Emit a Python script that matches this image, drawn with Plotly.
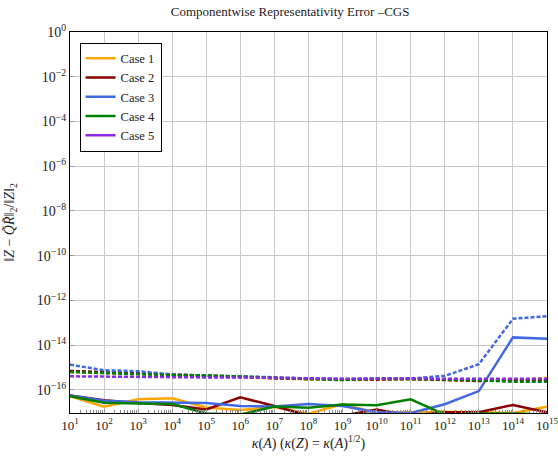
import plotly.graph_objects as go

kappa_exp = list(range(1, 16))
x_vals = [10.0 ** e for e in kappa_exp]

case_names = ["Case 1", "Case 2", "Case 3", "Case 4", "Case 5"]
case_colors = ["#FFA500", "#8B0000", "#4169E1", "#008000", "#8A2BE2"]

# log10 of errors, solid lines
solid_log = {
    "Case 1": [-16.28, -16.75, -16.42, -16.37, -16.78, -16.9, -16.76, -17.06, -16.63, -17.03, -17.0, -16.97, -17.0, -17.03, -16.75],
    "Case 2": [-16.25, -16.46, -16.58, -16.67, -16.87, -16.33, -16.72, -17.15, -17.15, -16.87, -17.15, -17.0, -17.0, -16.67, -17.0],
    "Case 3": [-16.25, -16.48, -16.55, -16.55, -16.58, -16.72, -16.74, -16.63, -16.72, -17.0, -17.03, -16.64, -16.05, -13.65, -13.71],
    "Case 4": [-16.28, -16.57, -16.6, -16.63, -17.05, -17.1, -16.74, -16.8, -16.65, -16.68, -16.42, -17.1, -17.05, -17.05, -17.1],
    "Case 5": [-17.3, -17.3, -17.35, -17.3, -17.35, -17.3, -17.3, -17.35, -17.3, -17.3, -17.35, -17.3, -17.3, -17.35, -17.3],
}
# log10 of errors, dotted lines
dotted_log = {
    "Case 1": [-15.2, -15.25, -15.3, -15.33, -15.37, -15.42, -15.48, -15.53, -15.55, -15.53, -15.52, -15.55, -15.57, -15.55, -15.46],
    "Case 2": [-15.15, -15.21, -15.27, -15.31, -15.36, -15.4, -15.48, -15.51, -15.54, -15.54, -15.51, -15.57, -15.6, -15.54, -15.54],
    "Case 3": [-14.87, -15.12, -15.16, -15.31, -15.36, -15.39, -15.43, -15.49, -15.51, -15.49, -15.49, -15.37, -14.85, -12.82, -12.7],
    "Case 4": [-15.2, -15.24, -15.31, -15.34, -15.35, -15.4, -15.47, -15.53, -15.56, -15.5, -15.5, -15.53, -15.57, -15.63, -15.63],
    "Case 5": [-15.39, -15.41, -15.43, -15.43, -15.44, -15.44, -15.47, -15.5, -15.5, -15.5, -15.48, -15.5, -15.5, -15.5, -15.5],
}

x_ticktext = ["10<sup>%d</sup>" % e for e in kappa_exp]
y_exps = [0, -2, -4, -6, -8, -10, -12, -14, -16]
y_ticktext = ["10<sup>%s</sup>" % (str(e).replace("-", "\u2212")) for e in y_exps]

fig = go.Figure()
for name, col in zip(case_names, case_colors):
    fig.add_trace(go.Scatter(
        x=x_vals, y=[10.0 ** v for v in solid_log[name]], mode="lines",
        name=name, line=dict(color=col, width=2.5), showlegend=True))
for name, col in zip(case_names, case_colors):
    fig.add_trace(go.Scatter(
        x=x_vals, y=[10.0 ** v for v in dotted_log[name]], mode="lines",
        name=name, line=dict(color=col, width=2.5, dash="4px,2px"), showlegend=False))

font_family = "'Liberation Serif', 'DejaVu Serif', serif"
fig.update_layout(
    width=558, height=460,
    margin=dict(l=70, r=11, t=32, b=47),
    paper_bgcolor="white", plot_bgcolor="white",
    font=dict(family=font_family, size=14, color="#222"),
    title=dict(text="Componentwise Representativity Error \u2013CGS", x=0.52, xanchor="center",
               y=0.985, yanchor="top", font=dict(size=13)),
    legend=dict(x=0.02, y=0.972, xanchor="left", yanchor="top", bgcolor="white",
                bordercolor="black", borderwidth=1, font=dict(size=12.5),
                tracegroupgap=0, itemwidth=30),
    showlegend=True,
)
fig.update_xaxes(
    type="log", range=[0.9999, 15.0001], automargin=False,
    tickvals=x_vals, ticktext=x_ticktext, ticklabeloverflow="allow",
    showgrid=True, gridcolor="#c8c8c8", gridwidth=1,
    showline=True, linecolor="black", linewidth=1, mirror=True,
    ticks="inside", ticklen=4, tickcolor="#999",
    minor=dict(dtick="D1", ticks="inside", ticklen=3, tickcolor="#888", showgrid=False),
    title=dict(text="<i>\u03ba</i>(<i>A</i>) (<i>\u03ba</i>(<i>Z</i>) = <i>\u03ba</i>(<i>A</i>)<sup>1/2</sup>)",
               font=dict(size=14), standoff=6),
    tickfont=dict(size=13), zeroline=False,
)
fig.update_yaxes(
    type="log", range=[-17.03, 0], automargin=False,
    tickvals=[10.0 ** e for e in y_exps], ticktext=y_ticktext,
    showgrid=True, gridcolor="#c8c8c8", gridwidth=1,
    showline=True, linecolor="black", linewidth=1, mirror=True,
    ticks="inside", ticklen=4, tickcolor="#999",
    title=dict(text="\u2016<i>Z</i> \u2212 <i>Q\u0303R\u0303</i>\u2016<sub>2</sub>/\u2016<i>Z</i>\u2016<sub>2</sub>",
               font=dict(size=14), standoff=18),
    tickfont=dict(size=14), zeroline=False,
)

fig.write_html("out.html", config={"displayModeBar": False},
               post_script="document.body.style.margin='0';document.body.style.overflow='hidden';")
